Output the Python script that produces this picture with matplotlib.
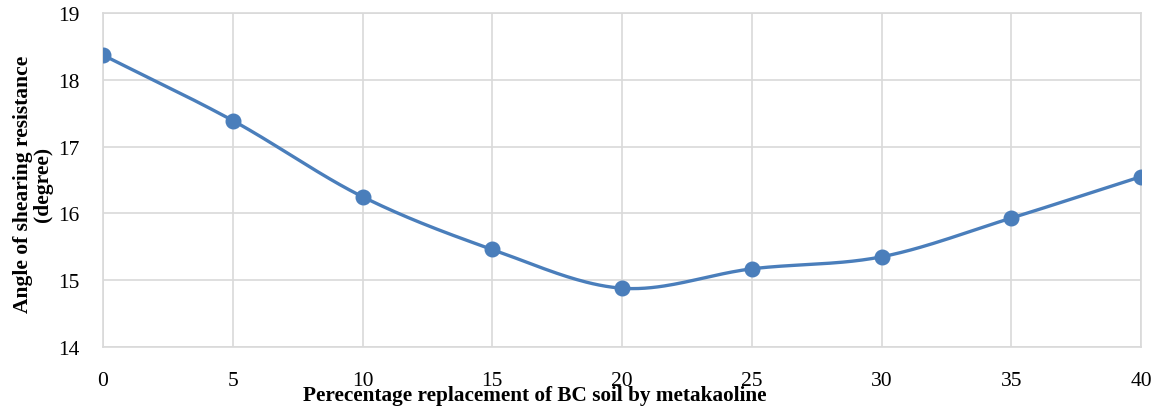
import numpy as np
import matplotlib
matplotlib.use("Agg")
import matplotlib.pyplot as plt

replacement_pct = [0, 5, 10, 15, 20, 25, 30, 35, 40]
shear_angle = [18.37, 17.39, 16.25, 15.46, 14.88, 15.17, 15.35, 15.93, 16.55]
x_ticks = [0, 5, 10, 15, 20, 25, 30, 35, 40]
y_ticks = [14, 15, 16, 17, 18, 19]

plt.rcParams['font.family'] = ['Liberation Serif', 'DejaVu Serif']

def smooth(xs, ys, n=40, tension=0.5):
    xs = np.asarray(xs, float); ys = np.asarray(ys, float)
    px = np.concatenate([[2*xs[0]-xs[1]], xs, [2*xs[-1]-xs[-2]]])
    py = np.concatenate([[2*ys[0]-ys[1]], ys, [2*ys[-1]-ys[-2]]])
    ox, oy = [], []
    for i in range(1, len(px)-2):
        t = np.linspace(0, 1, n, endpoint=(i == len(px)-3))
        p0, p1, p2, p3 = (np.array([px[j], py[j]]) for j in (i-1, i, i+1, i+2))
        m1 = tension*(p2-p0); m2 = tension*(p3-p1)
        h00 = 2*t**3-3*t**2+1; h10 = t**3-2*t**2+t; h01 = -2*t**3+3*t**2; h11 = t**3-t**2
        pts = np.outer(h00, p1)+np.outer(h10, m1)+np.outer(h01, p2)+np.outer(h11, m2)
        ox.extend(pts[:, 0]); oy.extend(pts[:, 1])
    return np.array(ox), np.array(oy)

fig = plt.figure(figsize=(11.61, 4.10), dpi=100)
ax = fig.add_axes([103/1161, 1-348/410, (1141-103)/1161, (348-14)/410])

color = '#4a7ebb'
sx, sy = smooth(replacement_pct, shear_angle)
ax.plot(sx, sy, color=color, lw=2.4, zorder=3, solid_capstyle='round')
ax.plot(replacement_pct, shear_angle, 'o', color=color, ms=10.5, zorder=4)

ax.set_xlim(0, 40)
ax.set_ylim(14, 19)
ax.set_xticks(x_ticks)
ax.set_yticks(y_ticks)
ax.grid(True, color='#d9d9d9', lw=1.2)
ax.set_axisbelow(True)
for s in ax.spines.values():
    s.set_color('#d9d9d9')
    s.set_linewidth(1.2)
ax.tick_params(length=0, labelsize=15.5, pad=17, colors='black')
ax.tick_params(axis='y', pad=17)

fig.text(535/1161, 1-396/410, 'Perecentage replacement of BC soil by metakaoline',
         ha='center', va='center', fontsize=15.3, fontweight='bold')
fig.text(33/1161, 1-184/410, 'Angle of shearing resistance\n(degree)',
         ha='center', va='center', rotation=90, fontsize=15.5, fontweight='bold',
         multialignment='center', linespacing=1.05)

fig.savefig('out.png', dpi=100)
